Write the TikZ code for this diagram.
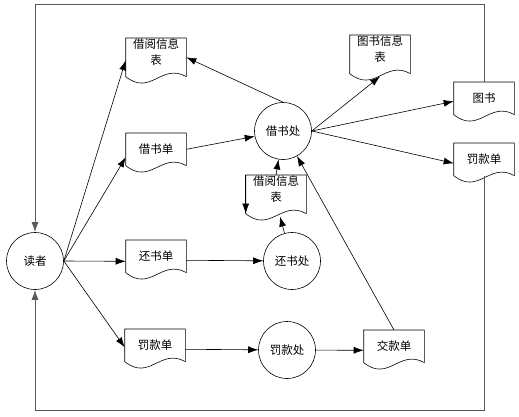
\documentclass[tikz,border=0pt]{standalone}
\usepackage{fontspec}
\setmainfont{Noto Sans CJK SC}
\usetikzlibrary{arrows.meta}

\tikzset{
	proc/.style={draw, circle, minimum size=57pt, inner sep=0pt},
	doc/.style={minimum width=60pt, minimum height=32pt, inner sep=0pt, anchor=north, align=center},
	doctwo/.style={doc, minimum height=38pt, text depth=11pt},
	flow/.style={-{Latex[length=10pt,width=7pt]}},
	loopline/.style={flow, draw=black!65, line width=1pt}
}

\begin{document}
\begin{tikzpicture}[x=1pt, y=1pt, line width=0.6pt, font=\fontsize{11.5pt}{16pt}\selectfont]
				\useasboundingbox (0,0) rectangle (519,416);
				% processes
				\node[proc] (duzhe) at (35,155) {读者};
				\node[proc] (jbc) at (283,285) {借书处};
				\node[proc] (hsc) at (292,155) {还书处};
				\node[proc] (fkc) at (287,66) {罚款处};
				% documents
				\node[doctwo] (jyA) at (156,378) {借阅信息\\表};
				\node[doc] (jsd) at (156,283) {借书单};
				\node[doc] (hsd) at (156,176) {还书单};
				\node[doc] (fkdA) at (155,87) {罚款单};
				\node[doctwo] (tsxx) at (380,381) {图书信息\\表};
				\node[doc] (ts) at (484,334) {图书};
				\node[doc] (fkdB) at (484,273) {罚款单};
				\node[doctwo] (jyB) at (276,241) {借阅信息\\表};
				\node[doc] (jkd) at (394,86) {交款单};
				\foreach \d in {jyA,jsd,hsd,fkdA,tsxx,ts,fkdB,jyB,jkd}
					\draw (\d.north west) -- (\d.south west) .. controls +(25,-20) and +(-25,14) .. (\d.south east) -- (\d.north east) -- cycle;
				% flows
				\draw[flow] (duzhe.east) -- ([yshift=-3pt]jyA.west);
				\draw[flow] (duzhe.east) -- ([yshift=-8pt]jsd.west);
				\draw[flow] (duzhe.east) -- ([yshift=-5pt]hsd.west);
				\draw[flow] (duzhe.east) -- ([yshift=-2pt]fkdA.west);
				\draw[flow] (jsd.east) -- (jbc);
				\draw[flow] (jbc.north) -- (jyA.east);
				\draw[flow] (jbc.east) -- ([yshift=-3pt]tsxx.south);
				\draw[flow] (jbc.east) -- ([yshift=-3pt]ts.west);
				\draw[flow] (jbc.east) -- ([yshift=-4pt]fkdB.west);
				\draw[flow] (jyB.north) -- (jbc);
				\draw[flow] (jyB.north west) -- (jyB.south west);
				\draw[flow] (hsc) -- ([xshift=4pt,yshift=-3pt]jyB.south);
				\draw[flow] ([yshift=-4pt]hsd.east) -- (hsc);
				\draw[flow] ([yshift=-4pt]fkdA.east) -- (fkc);
				\draw[flow] (fkc) -- ([yshift=-4pt]jkd.west);
				\draw[flow] (jkd.north) -- (jbc);
				% back to the reader
				\coordinate (topleft) at (35,411);
				\coordinate (botleft) at (35,6);
				\draw[loopline] (ts.north) |- (topleft) -- (duzhe);
				\draw[loopline] (fkdB.south) |- (botleft) -- (duzhe);
\end{tikzpicture}
\end{document}
